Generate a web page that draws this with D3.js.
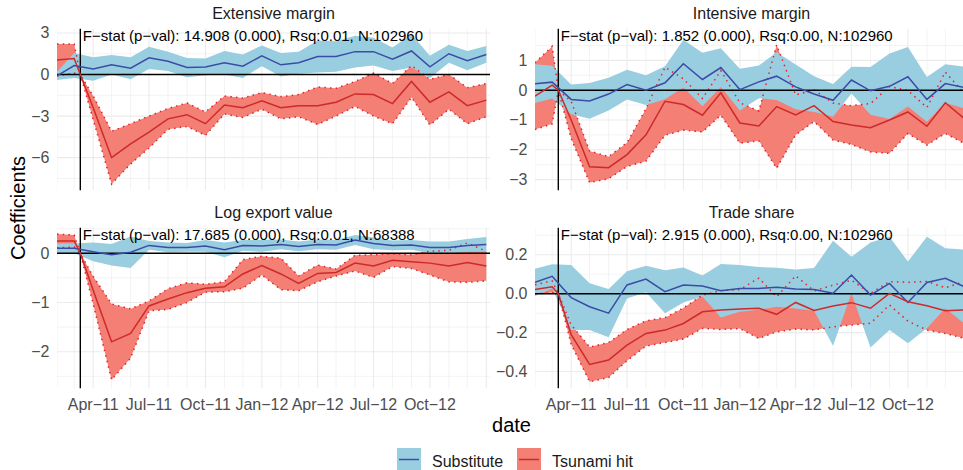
<!DOCTYPE html>
<html>
<head>
<meta charset="utf-8">
<script src="https://cdn.jsdelivr.net/npm/d3@7"></script>
<style>
  body { margin: 0; background: #fff; }
  svg { display: block; }
  text { font-family: "Liberation Sans", Arial, Helvetica, sans-serif; }
</style>
</head>
<body>
<svg id="chart" width="963" height="470"></svg>
<script>
// ---- data -------------------------------------------------------------
// Monthly coefficients (Substitute) and monthly + event-date coefficients (Tsunami hit)
const months = ["2011-02-01","2011-03-01","2011-04-01","2011-05-01","2011-06-01","2011-07-01",
  "2011-08-01","2011-09-01","2011-10-01","2011-11-01","2011-12-01","2012-01-01",
  "2012-02-01","2012-03-01","2012-04-01","2012-05-01","2012-06-01","2012-07-01",
  "2012-08-01","2012-09-01","2012-10-01","2012-11-01","2012-12-01","2013-01-01"];
const eventDate = "2011-03-11";
const hitDates = ["2011-02-01","2011-03-01","2011-03-11","2011-04-01","2011-05-01","2011-06-01","2011-07-01",
  "2011-08-01","2011-09-01","2011-10-01","2011-11-01","2011-12-01","2012-01-01",
  "2012-02-01","2012-03-01","2012-04-01","2012-05-01","2012-06-01","2012-07-01",
  "2012-08-01","2012-09-01","2012-10-01","2012-11-01","2012-12-01","2013-01-01"];

const panelTitles = ["Extensive margin", "Intensive margin", "Log export value", "Trade share"];
const statLabels = [
  "F\u2212stat (p\u2212val): 14.908 (0.000), Rsq:0.01, N:102960",
  "F\u2212stat (p\u2212val): 1.852 (0.000), Rsq:0.00, N:102960",
  "F\u2212stat (p\u2212val): 17.685 (0.000), Rsq:0.01, N:68388",
  "F\u2212stat (p\u2212val): 2.915 (0.000), Rsq:0.00, N:102960"
];
const seriesNames = ["Substitute", "Tsunami hit"];

// Extensive margin
const extSubEst = [-0.1, 0.65, 0.4, 0.7, 0.45, 1.2, 0.95, 0.5, 0.55, 0.85, 0.6, 1.35, 0.7, 0.85, 1.3, 1.3, 1.65, 1.65, 1.1, 1.7, 0.55, 1.5, 1.0, 1.45];
const extSubCi  = [0.3, 0.9, 0.85, 0.7, 0.8, 0.8, 0.7, 0.7, 0.6, 0.85, 0.85, 0.75, 0.85, 0.8, 1.15, 1.1, 1.15, 1.0, 0.85, 1.2, 0.8, 0.65, 0.7, 0.6];
const extHitEst = [1.05, 1.15, 0, -2.4, -6.0, -5.0, -4.15, -3.2, -2.9, -3.55, -2.2, -2.4, -1.9, -2.4, -2.25, -2.25, -2.0, -1.4, -1.45, -2.1, -0.5, -2.0, -1.25, -2.25, -1.85];
const extHitCi  = [1.15, 1.05, 0, 0.85, 1.9, 1.45, 1.15, 0.75, 0.85, 0.85, 0.65, 0.7, 0.6, 0.8, 0.8, 1.35, 1.0, 0.9, 1.55, 1.45, 1.15, 1.65, 1.25, 1.3, 1.2];

// Intensive margin
const intSubEst = [0.22, 0.27, -0.31, -0.36, -0.13, 0.19, 0.0, 0.25, 0.89, 0.36, 0.76, 0.02, 0.28, 0.47, 0.11, -0.13, -0.34, 0.34, -0.02, 0.13, 0.45, -0.31, 0.22, 0.09];
const intSubCi  = [0.65, 0.55, 0.5, 0.6, 0.55, 0.5, 0.5, 0.55, 0.8, 0.9, 0.65, 0.7, 0.55, 0.8, 0.75, 0.6, 0.55, 0.45, 0.8, 1.1, 1.0, 0.75, 0.65, 0.7];
const intHitEst = [-0.2, 0.17, 0, -1.0, -2.57, -2.6, -2.16, -1.5, -0.37, -0.48, -0.84, -0.09, -1.1, -1.2, -0.55, -0.83, -0.52, -1.05, -1.17, -1.26, -1.0, -0.73, -1.21, -0.42, -0.95];
const intHitCi  = [1.12, 1.3, 0, 0.62, 0.53, 0.37, 0.4, 0.88, 1.14, 0.86, 0.56, 0.75, 0.68, 0.5, 2.07, 0.67, 0.53, 0.62, 0.65, 0.81, 1.12, 0.72, 0.63, 1.03, 0.84];

// Log export value
const logSubEst = [0.1, 0.1, 0.03, -0.03, 0.02, 0.16, 0.12, 0.12, 0.15, 0.07, 0.16, 0.15, 0.18, 0.14, 0.18, 0.17, 0.27, 0.2, 0.16, 0.17, 0.12, 0.12, 0.16, 0.18];
const logSubCi  = [0.1, 0.1, 0.19, 0.22, 0.32, 0.09, 0.1, 0.09, 0.12, 0.15, 0.11, 0.12, 0.1, 0.1, 0.1, 0.1, 0.1, 0.12, 0.1, 0.1, 0.12, 0.12, 0.13, 0.15];
const logHitEst = [0.25, 0.25, 0, -0.75, -1.8, -1.63, -1.07, -0.93, -0.8, -0.71, -0.68, -0.42, -0.25, -0.42, -0.61, -0.41, -0.39, -0.2, -0.26, -0.14, -0.17, -0.2, -0.26, -0.19, -0.26];
const logHitCi  = [0.14, 0.12, 0, 0.28, 0.77, 0.5, 0.1, 0.21, 0.2, 0.08, 0.1, 0.29, 0.19, 0.32, 0.15, 0.17, 0.07, 0.16, 0.23, 0.13, 0.14, 0.24, 0.32, 0.4, 0.3];

// Trade share
const shrSubEst = [0.058, 0.089, -0.02, -0.067, -0.1, 0.045, 0.075, 0.01, 0.045, 0.04, 0.015, 0.027, 0.027, 0.033, 0.024, 0.022, 0.002, 0.096, -0.007, 0.053, -0.045, 0.058, 0.079, 0.036];
const shrSubCi  = [0.07, 0.062, 0.167, 0.12, 0.124, 0.07, 0.068, 0.11, 0.09, 0.054, 0.137, 0.12, 0.11, 0.1, 0.1, 0.11, 0.27, 0.094, 0.27, 0.24, 0.21, 0.235, 0.154, 0.19];
const shrHitEst = [0.022, 0.036, 0, -0.21, -0.363, -0.341, -0.264, -0.204, -0.187, -0.153, -0.093, -0.084, -0.079, -0.075, -0.106, -0.045, -0.086, -0.063, -0.046, -0.075, 0.002, -0.041, -0.062, -0.087, -0.084];
const shrHitCi  = [0.024, 0.03, 0, 0.05, 0.089, 0.09, 0.08, 0.065, 0.064, 0.08, 0.085, 0.1, 0.1, 0.155, 0.09, 0.137, 0.1, 0.107, 0.115, 0.077, 0.06, 0.1, 0.125, 0.117, 0.146];

// y-axis ticks per panel
const extTicks = [-6, -3, 0, 3];
const intTicks = [-3, -2, -1, 0, 1];
const logTicks = [-2, -1, 0];
const shrTicks = [-0.4, -0.2, 0.0, 0.2];

// ---- layout -----------------------------------------------------------
const W = 963, H = 470;
const colX = [[57, 490], [535, 968]];
const rowY = [[28.5, 190.5], [227.5, 388.5]];
const yDomains = [[-8.37, 3.32], [-3.366, 2.07], [-2.748, 0.524], [-0.487, 0.340]];
const xDomain = [new Date("2011-02-01T00:00:00"), new Date("2013-01-07T00:00:00")];

const COL = {
  subFill: "#99CEE1", hitFill: "#F37F75",
  subLine: "#3A4CA5", hitLine: "#CE2A2A", hitDot: "#E8202A",
  grid: "#EBEBEB", text: "#1A1A1A", axis: "#4D4D4D"
};

const parse = s => new Date(s + "T00:00:00");
const fmtTick = d => d3.timeFormat("%b-%y")(d).replace("-", "\u2212");
const fmtNum = (v, dec) => (v < 0 ? "\u2212" : "") + Math.abs(v).toFixed(dec);

const panels = [
  { title: panelTitles[0], stat: statLabels[0], sub: [extSubEst, extSubCi], hit: [extHitEst, extHitCi], ticks: extTicks, dec: 0 },
  { title: panelTitles[1], stat: statLabels[1], sub: [intSubEst, intSubCi], hit: [intHitEst, intHitCi], ticks: intTicks, dec: 0 },
  { title: panelTitles[2], stat: statLabels[2], sub: [logSubEst, logSubCi], hit: [logHitEst, logHitCi], ticks: logTicks, dec: 0 },
  { title: panelTitles[3], stat: statLabels[3], sub: [shrSubEst, shrSubCi], hit: [shrHitEst, shrHitCi], ticks: shrTicks, dec: 1 }
];

const svg = d3.select("#chart");
svg.append("rect").attr("width", W).attr("height", H).attr("fill", "#fff");

const monthDates = months.map(parse);
const hitDateObjs = hitDates.map(parse);
const evDate = parse(eventDate);
const majorMonths = monthDates.filter(d => d.getMonth() % 3 === 0);

panels.forEach((p, i) => {
  const col = i % 2, row = Math.floor(i / 2);
  const [x0, x1] = colX[col];
  const [y0, y1] = rowY[row];
  const x = d3.scaleTime().domain(xDomain).range([x0, x1]);
  const y = d3.scaleLinear().domain(yDomains[i]).range([y1, y0]);
  const g = svg.append("g");

  const clipId = "clip" + i;
  svg.append("clipPath").attr("id", clipId)
    .append("rect").attr("x", x0).attr("y", y0).attr("width", x1 - x0).attr("height", y1 - y0);

  // grid: minor y halfway between ticks, monthly minor x, quarterly major x
  const step = p.ticks[1] - p.ticks[0];
  const minorY = [p.ticks[0] - step / 2].concat(p.ticks.map(t => t + step / 2))
    .filter(v => v >= yDomains[i][0] && v <= yDomains[i][1]);
  const grid = g.append("g").attr("clip-path", `url(#${clipId})`);
  grid.selectAll(".ym").data(minorY).join("line")
    .attr("x1", x0).attr("x2", x1).attr("y1", d => y(d)).attr("y2", d => y(d))
    .attr("stroke", COL.grid).attr("stroke-width", 0.6);
  grid.selectAll(".xm").data(monthDates.filter(d => d.getMonth() % 3 !== 0)).join("line")
    .attr("x1", d => x(d)).attr("x2", d => x(d)).attr("y1", y0).attr("y2", y1)
    .attr("stroke", COL.grid).attr("stroke-width", 0.6);
  grid.selectAll(".yM").data(p.ticks).join("line")
    .attr("x1", x0).attr("x2", x1).attr("y1", d => y(d)).attr("y2", d => y(d))
    .attr("stroke", COL.grid).attr("stroke-width", 1.1);
  grid.selectAll(".xM").data(majorMonths).join("line")
    .attr("x1", d => x(d)).attr("x2", d => x(d)).attr("y1", y0).attr("y2", y1)
    .attr("stroke", COL.grid).attr("stroke-width", 1.1);

  const subRows = monthDates.map((d, k) => ({ d, est: p.sub[0][k], lo: p.sub[0][k] - p.sub[1][k], hi: p.sub[0][k] + p.sub[1][k] }));
  const hitRows = hitDateObjs.map((d, k) => ({ d, est: p.hit[0][k], lo: p.hit[0][k] - p.hit[1][k], hi: p.hit[0][k] + p.hit[1][k] }));

  const area = d3.area().x(r => x(r.d)).y0(r => y(r.lo)).y1(r => y(r.hi));
  const lineEst = d3.line().x(r => x(r.d)).y(r => y(r.est));
  const lineLo = d3.line().x(r => x(r.d)).y(r => y(r.lo));
  const lineHi = d3.line().x(r => x(r.d)).y(r => y(r.hi));

  const marks = g.append("g").attr("clip-path", `url(#${clipId})`);
  marks.append("path").datum(hitRows).attr("d", area).attr("fill", COL.hitFill);
  marks.append("path").datum(subRows).attr("d", area).attr("fill", COL.subFill);
  [lineLo, lineHi].forEach(fn => {
    marks.append("path").datum(hitRows).attr("d", fn).attr("fill", "none")
      .attr("stroke", COL.hitDot).attr("stroke-width", 1.5).attr("stroke-dasharray", "1.5,4.2");
  });
  // reference lines: zero and event date
  marks.append("line").attr("x1", x0).attr("x2", x1).attr("y1", y(0)).attr("y2", y(0))
    .attr("stroke", "#000").attr("stroke-width", 1.4);
  marks.append("line").attr("x1", x(evDate)).attr("x2", x(evDate)).attr("y1", y0).attr("y2", y1)
    .attr("stroke", "#000").attr("stroke-width", 1.4);
  marks.append("path").datum(subRows).attr("d", lineEst).attr("fill", "none")
    .attr("stroke", COL.subLine).attr("stroke-width", 1.5);
  marks.append("path").datum(hitRows).attr("d", lineEst).attr("fill", "none")
    .attr("stroke", COL.hitLine).attr("stroke-width", 1.5);

  // annotation with model statistics, anchored at the event date
  g.append("text").attr("x", x(evDate) + 2.5).attr("y", y0 + 7)
    .attr("dominant-baseline", "central").attr("font-size", 15).attr("fill", "#000")
    .text(p.stat);

  // strip title
  g.append("text").attr("x", (x0 + x1) / 2).attr("y", y0 - 15)
    .attr("text-anchor", "middle").attr("dominant-baseline", "central")
    .attr("font-size", 16).attr("fill", COL.text).text(p.title);

  // y tick labels
  g.selectAll(".yt").data(p.ticks).join("text")
    .attr("x", x0 - 7.5).attr("y", d => y(d)).attr("text-anchor", "end")
    .attr("dominant-baseline", "central").attr("font-size", 16).attr("fill", COL.axis)
    .text(d => fmtNum(d, p.dec));

  // x tick labels on the bottom row
  if (row === 1) {
    g.selectAll(".xt").data(majorMonths.filter(d => x(d) < x1 - 20)).join("text")
      .attr("x", d => x(d)).attr("y", y1 + 15.5).attr("text-anchor", "middle")
      .attr("dominant-baseline", "central").attr("font-size", 16).attr("fill", COL.axis)
      .text(fmtTick);
  }
});

// axis titles
svg.append("text").attr("x", 511.5).attr("y", 425).attr("text-anchor", "middle")
  .attr("dominant-baseline", "central").attr("font-size", 20).attr("fill", "#000").text("date");
svg.append("text").attr("transform", "translate(18,208) rotate(-90)").attr("text-anchor", "middle")
  .attr("dominant-baseline", "central").attr("font-size", 20).attr("fill", "#000").text("Coefficients");

// legend
const legend = svg.append("g");
const keyX = [397, 517];
seriesNames.forEach((name, k) => {
  const kg = legend.append("g").attr("transform", `translate(${keyX[k]},448)`);
  kg.append("rect").attr("width", 24).attr("height", 23)
    .attr("fill", k === 0 ? COL.subFill : COL.hitFill);
  kg.append("line").attr("x1", 2).attr("x2", 22).attr("y1", 11.5).attr("y2", 11.5)
    .attr("stroke", k === 0 ? COL.subLine : COL.hitLine).attr("stroke-width", 1.5);
  kg.append("text").attr("x", 35).attr("y", 13).attr("dominant-baseline", "central")
    .attr("font-size", 16).attr("fill", COL.text).text(name);
});
</script>
</body>
</html>
